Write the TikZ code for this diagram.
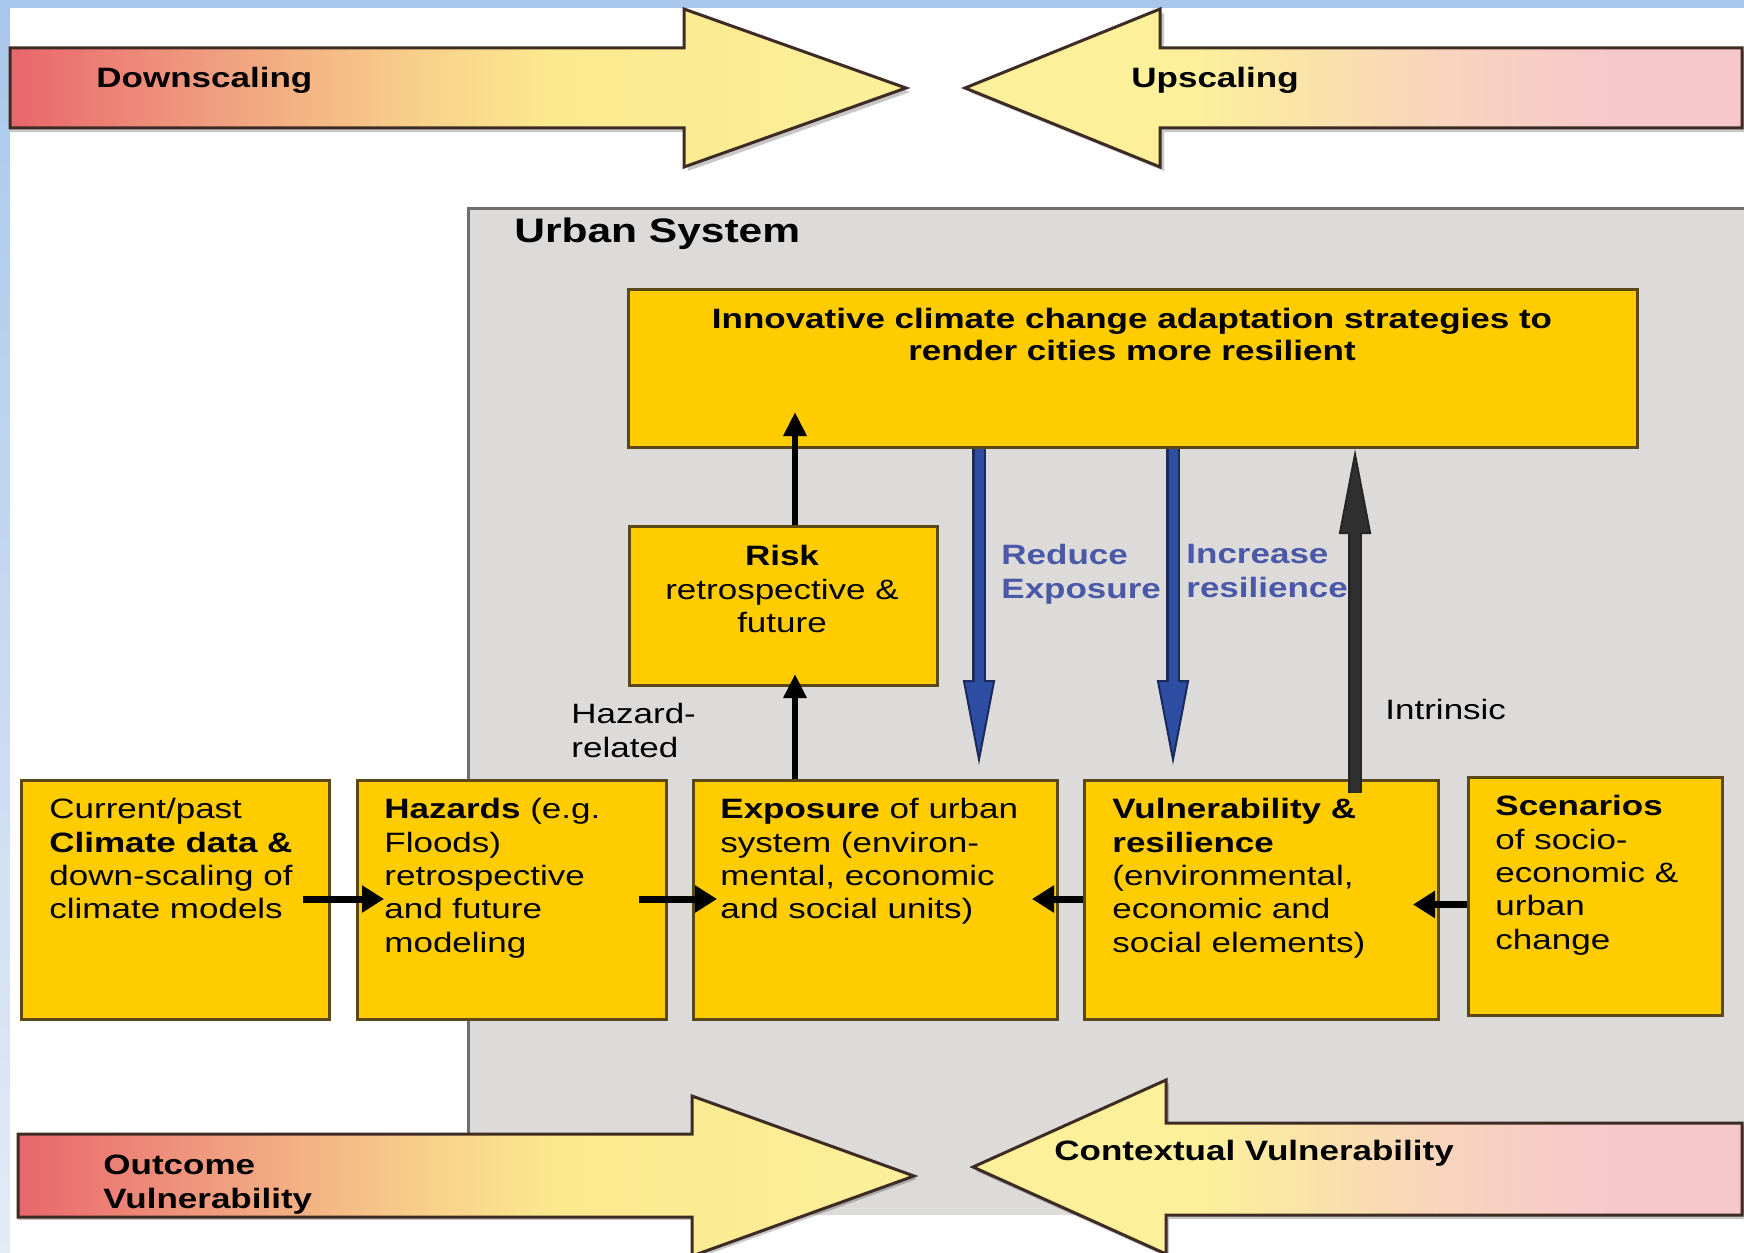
\documentclass[tikz,border=0pt]{standalone}
\usepackage{fontspec}
\setmainfont{Liberation Sans}[FakeStretch=1.25]
\usepackage{tikz}
\usetikzlibrary{arrows.meta}
\definecolor{boxfill}{HTML}{FFCC00}
\definecolor{boxedge}{HTML}{5A4816}
\definecolor{grayfill}{HTML}{DCDBDA}
\definecolor{grayedge}{HTML}{6E6E6E}
\definecolor{bluetext}{HTML}{4A58A8}
\definecolor{arrowblue}{HTML}{2D4EA2}
\definecolor{arrownavy}{HTML}{1C2A5C}
\definecolor{darkarr}{HTML}{303030}
\definecolor{stripblue}{HTML}{A9C7EC}
\definecolor{stripblue2}{HTML}{E3EBF5}
\definecolor{bigedge}{HTML}{3E2C24}
\definecolor{cRed}{HTML}{E9666C}
\definecolor{cSalmon}{HTML}{F0A080}
\definecolor{cOrange}{HTML}{F8D08A}
\definecolor{cYellow}{HTML}{FBE98E}
\definecolor{cPale}{HTML}{FCF09B}
\definecolor{cPeachY}{HTML}{F9E0AC}
\definecolor{cPeach}{HTML}{F8D4BC}
\definecolor{cPink}{HTML}{F6C8CC}
\pgfdeclarehorizontalshading{downsh}{100bp}{color(0bp)=(cRed); color(25bp)=(cRed); color(36.8bp)=(cSalmon); color(47.8bp)=(cOrange); color(55.5bp)=(cYellow); color(75bp)=(cPale); color(100bp)=(cPale)}
\pgfdeclarehorizontalshading{upsh}{100bp}{color(0bp)=(cPale); color(25bp)=(cPale); color(40bp)=(cPale); color(48.5bp)=(cPeachY); color(55.5bp)=(cPeach); color(66.5bp)=(cPink); color(75bp)=(cPink); color(100bp)=(cPink)}
\begin{document}
\begin{tikzpicture}[x=0.5pt,y=-0.5pt,
  ybox/.style={draw=boxedge, fill=boxfill, line width=1.5pt, inner sep=0pt, anchor=north west},
  txt/.style={inner sep=0pt, yshift=-2pt, font=\fontsize{14}{16.7}\selectfont, align=left, anchor=north west},
  ctxt/.style={inner sep=0pt, yshift=-2pt, font=\fontsize{14}{16.7}\selectfont, align=center, anchor=north},
  bigarrow/.style={draw=bigedge, line width=1.5pt, line join=miter},
  bigshadow/.style={fill=black, opacity=0.22},
  harr/.style={draw=black, line width=3.5pt, -{Triangle[length=11pt,width=13pt]}},
  varr/.style={draw=black, line width=3pt, -{Triangle[length=12pt,width=11pt]}},
  bluearr/.style={draw=arrownavy, line width=7pt, -{Triangle[length=42.5pt,width=16pt,line width=1pt,fill=arrowblue]}},
  blueinner/.style={draw=arrowblue, line width=4.5pt, shorten >=40pt},
  grayarr/.style={draw=black!85, line width=7pt, -{Triangle[length=42.5pt,width=16pt,line width=1pt,fill=darkarr]}},
  grayinner/.style={draw=darkarr, line width=4.5pt, shorten >=40pt},
  lbl/.style={inner sep=0pt, yshift=-2pt, font=\fontsize{14}{16.7}\selectfont\bfseries}
]
\useasboundingbox (0,0) rectangle (1744,1252);
\clip (0,0) rectangle (1744,1252);
% background
\fill[stripblue] (0,0) rectangle (1744,8);
\shade[top color=stripblue, bottom color=stripblue2] (0,0) rectangle (10,1252);
\fill[white] (10,8) rectangle (1744,1252);

% urban system area
\fill[grayfill] (468,208) rectangle (1750,1215);
\draw[grayedge, line width=1.5pt] (468,1215) -- (468,208) -- (1750,208);
\node[lbl, font=\fontsize{17}{20}\selectfont\bfseries, anchor=base west] (urb) at (514,238) {Urban System};

% top big arrows
\fill[bigshadow] (10,52) -- (688,52) -- (688,13) -- (910,92) -- (688,171) -- (688,132) -- (10,132) -- cycle;
\path[bigarrow, shading=downsh] (10,48) -- (684,48) -- (684,9) -- (906,88) -- (684,167) -- (684,128) -- (10,128) -- cycle;
\fill[bigshadow] (969,92) -- (1164,13) -- (1164,52) -- (1750,52) -- (1750,132) -- (1164,132) -- (1164,171) -- cycle;
\path[bigarrow, shading=upsh] (965,88) -- (1160,9) -- (1160,48) -- (1742,48) -- (1742,128) -- (1160,128) -- (1160,167) -- cycle;
\node[lbl, anchor=base west] (down) at (96,84) {Downscaling};
\node[lbl, anchor=base west] (up) at (1131,84) {Upscaling};

% bottom big arrows
\fill[bigshadow] (18,1138) -- (695,1138) -- (695,1099) -- (917,1179) -- (695,1259) -- (695,1220) -- (18,1220) -- cycle;
\path[bigarrow, shading=downsh] (18,1134) -- (692,1134) -- (692,1096) -- (914,1176) -- (692,1256) -- (692,1217) -- (18,1217) -- cycle;
\fill[bigshadow] (976,1171) -- (1169,1083) -- (1169,1126) -- (1750,1126) -- (1750,1219) -- (1169,1219) -- (1169,1258) -- cycle;
\path[bigarrow, shading=upsh] (973,1167) -- (1166,1080) -- (1166,1123) -- (1742,1123) -- (1742,1215) -- (1166,1215) -- (1166,1254) -- cycle;
\node[lbl, anchor=north west, align=left] (outc) at (103,1151) {Outcome\\Vulnerability};
\node[lbl, anchor=base west] (ctx) at (1054,1156) {Contextual Vulnerability};

% boxes
\node[ybox, minimum width=504.5pt, minimum height=79pt] (top) at (627,288) {};
\node[ybox, minimum width=154pt, minimum height=79.5pt] (risk) at (628,525) {};
\node[ybox, minimum width=154pt, minimum height=119.5pt] (cur) at (20,779) {};
\node[ybox, minimum width=154.5pt, minimum height=119.5pt] (haz) at (356,779) {};
\node[ybox, minimum width=182pt, minimum height=119.5pt] (exp) at (692,779) {};
\node[ybox, minimum width=177pt, minimum height=119.5pt] (vul) at (1083,779) {};
\node[ybox, minimum width=127pt, minimum height=119pt] (scen) at (1467,776) {};

% box texts
\node[ctxt, font=\fontsize{14}{16}\selectfont\bfseries] (topT) at (1132,304) {Innovative climate change adaptation strategies to\\render cities more resilient};
\node[ctxt] (riskT) at (782,541) {\textbf{Risk}\\retrospective \&\\future};
\node[txt] (curT) at (49,794) {Current/past\\\textbf{Climate data \&}\\down-scaling of\\climate models};
\node[txt] (hazT) at (384,794) {\textbf{Hazards} (e.g.\\Floods)\\retrospective\\and future\\modeling};
\node[txt] (expT) at (720,794) {\textbf{Exposure} of urban\\system (environ-\\mental, economic\\and social units)};
\node[txt] (vulT) at (1112,794) {\textbf{Vulnerability \&}\\\textbf{resilience}\\(environmental,\\economic and\\social elements)};
\node[txt] (scenT) at (1495,791) {\textbf{Scenarios}\\of socio-\\economic \&\\urban\\change};

% labels
\node[txt] (hzr) at (571,699) {Hazard-\\related};
\node[txt, anchor=base west] (intr) at (1385,715) {Intrinsic};
\node[txt, font=\fontsize{14}{16.7}\selectfont\bfseries, text=bluetext] (redu) at (1001,540) {Reduce\\Exposure};
\node[txt, font=\fontsize{14}{16.7}\selectfont\bfseries, text=bluetext] (incr) at (1186,540) {Increase\\resilience};

% connectors
\draw[harr] ([shift={(-28,-1)}]cur.east) -- ([shift={(28,-1)}]haz.west);
\draw[harr] ([shift={(-29,-1)}]haz.east) -- ([shift={(25,-1)}]exp.west);
\draw[harr] ([shift={(0,-1)}]vul.west) -- ([shift={(-27,-1)}]exp.east);
\draw[harr] ([shift={(0,8)}]scen.west) -- ([shift={(-27,4.5)}]vul.east);
\draw[varr] ([shift={(103,0)}]exp.north west) -- ([shift={(167,-13)}]risk.south west);
\draw[varr] ([shift={(167,0)}]risk.north west) -- ([shift={(168,-37)}]top.south west);
\draw[bluearr] ([shift={(352,0)}]top.south west) -- ([shift={(287,-14)}]exp.north west);
\draw[blueinner] ([shift={(352,0)}]top.south west) -- ([shift={(287,-14)}]exp.north west);
\draw[bluearr] ([shift={(546,0)}]top.south west) -- ([shift={(90,-14)}]vul.north west);
\draw[blueinner] ([shift={(546,0)}]top.south west) -- ([shift={(90,-14)}]vul.north west);
\draw[grayarr] ([shift={(272,14)}]vul.north west) -- ([shift={(728,0)}]top.south west);
\draw[grayinner] ([shift={(272,14)}]vul.north west) -- ([shift={(728,0)}]top.south west);
\end{tikzpicture}
\end{document}
